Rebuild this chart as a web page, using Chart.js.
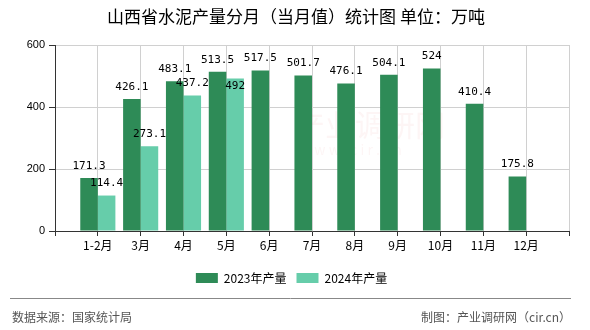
<!DOCTYPE html>
<html>
<head>
<meta charset="utf-8">
<script src="https://cdn.jsdelivr.net/npm/chart.js@4/dist/chart.umd.min.js"></script>
<style>
    html, body { margin: 0; padding: 0; background: #fff; }
    #wrap { width: 590px; height: 330px; position: relative; }
</style>
</head>
<body>
<div id="wrap"><canvas id="cementChart"></canvas></div>
<script>
// 山西省水泥产量（万吨）
const categories = ['1-2月', '3月', '4月', '5月', '6月', '7月', '8月', '9月', '10月', '11月', '12月'];
const output2023 = [171.3, 426.1, 483.1, 513.5, 517.5, 501.7, 476.1, 504.1, 524, 410.4, 175.8];
const output2024 = [114.4, 273.1, 437.2, 492, null, null, null, null, null, null, null];
const yTicks = [0, 200, 400, 600];
const seriesNames = ['2023年产量', '2024年产量'];

const cjk = '"Noto Sans CJK SC", "Noto Sans", sans-serif';

// empty slot at both ends so ticks sit on the bar pairs
const labels = ['', ...categories, ''];
const pad = (arr) => [null, ...arr, null];

// value labels above bars, pushed inside the bar when they overlap
const valueLabels = {
    id: 'valueLabels',
    afterDatasetsDraw(chart) {
        const ctx = chart.ctx;
        ctx.save();
        ctx.font = '11px "DejaVu Sans Mono", monospace';
        ctx.fillStyle = '#000';
        ctx.textAlign = 'center';
        ctx.textBaseline = 'middle';
        const boxes = [];
        chart.data.datasets.forEach((ds, di) => {
            chart.getDatasetMeta(di).data.forEach((bar, i) => {
                const v = ds.data[i];
                if (v === null || v === undefined) return;
                const txt = String(v);
                const w = ctx.measureText(txt).width;
                let y = bar.y - 12;
                const hit = boxes.some(b => Math.abs(b.x - bar.x) < (b.w + w) / 2 && Math.abs(b.y - y) < 11);
                if (hit) y = bar.y + 8;
                boxes.push({ x: bar.x, y: y, w: w });
                ctx.fillText(txt, bar.x, y);
            });
        });
        ctx.restore();
    }
};

// title, watermark, footer
const decor = {
    id: 'decor',
    beforeDatasetsDraw(chart) {
        const ctx = chart.ctx;
        ctx.save();
        ctx.font = '30px ' + cjk;
        ctx.fillStyle = 'rgba(220, 60, 60, 0.05)';
        ctx.textAlign = 'left';
        ctx.textBaseline = 'middle';
        ctx.fillText('产业调研网', 295, 125);
        ctx.font = '14px ' + cjk;
        ctx.fillText('w w w . c i r . c n', 300, 150);
        ctx.restore();
    },
    afterDraw(chart) {
        const ctx = chart.ctx;
        ctx.save();
        ctx.font = '17px ' + cjk;
        ctx.fillStyle = '#000';
        ctx.textAlign = 'center';
        ctx.textBaseline = 'middle';
        ctx.fillText('山西省水泥产量分月（当月值）统计图 单位：万吨', 296, 17);

        ctx.strokeStyle = '#888';
        ctx.lineWidth = 1;
        ctx.beginPath();
        ctx.moveTo(10, 298.5);
        ctx.lineTo(571, 298.5);
        ctx.stroke();
        ctx.font = '12px ' + cjk;
        ctx.fillStyle = '#555';
        ctx.textAlign = 'left';
        ctx.fillText('数据来源：国家统计局', 12, 317);
        ctx.textAlign = 'right';
        ctx.fillText('制图：产业调研网（cir.cn）', 571, 317);
        ctx.restore();
    }
};

const chartData = {
    labels: labels,
    datasets: [{
        label: seriesNames[0],
        data: pad(output2023),
        backgroundColor: '#2E8B57',
        borderWidth: 0
    }, {
        label: seriesNames[1],
        data: pad(output2024),
        backgroundColor: '#66CDAA',
        borderWidth: 0
    }]
};

const chartConfig = {
    type: 'bar',
    data: chartData,
    options: {
        responsive: true,
        maintainAspectRatio: false,
        animation: false,
        categoryPercentage: 0.82,
        barPercentage: 1,
        layout: {
            padding: { top: 45, left: 14, right: 21, bottom: 36 }
        },
        plugins: {
            title: { display: false },
            legend: {
                position: 'bottom',
                labels: {
                    boxWidth: 22,
                    boxHeight: 10,
                    padding: 10,
                    color: '#000',
                    font: { family: cjk, size: 12 }
                }
            },
            tooltip: { enabled: false }
        },
        scales: {
            x: {
                offset: false,
                grid: { offset: false, color: '#d0d0d0', tickColor: '#333', tickLength: 5 },
                border: { color: '#333' },
                ticks: {
                    color: '#000',
                    padding: 2,
                    maxRotation: 0,
                    autoSkip: false,
                    font: { family: cjk, size: 12 }
                },
                afterFit(scale) { scale.height = 31; }
            },
            y: {
                min: 0,
                max: 600,
                afterBuildTicks(scale) { scale.ticks = yTicks.map(v => ({ value: v })); },
                grid: { color: '#d0d0d0', tickColor: '#333', tickLength: 6 },
                border: { color: '#333' },
                ticks: {
                    color: '#000',
                    padding: 4,
                    font: { family: '"Liberation Sans", sans-serif', size: 11 }
                },
                afterFit(scale) { scale.width = 41; }
            }
        }
    },
    plugins: [valueLabels, decor]
};

const cementChart = new Chart(document.getElementById('cementChart'), chartConfig);
</script>
</body>
</html>
